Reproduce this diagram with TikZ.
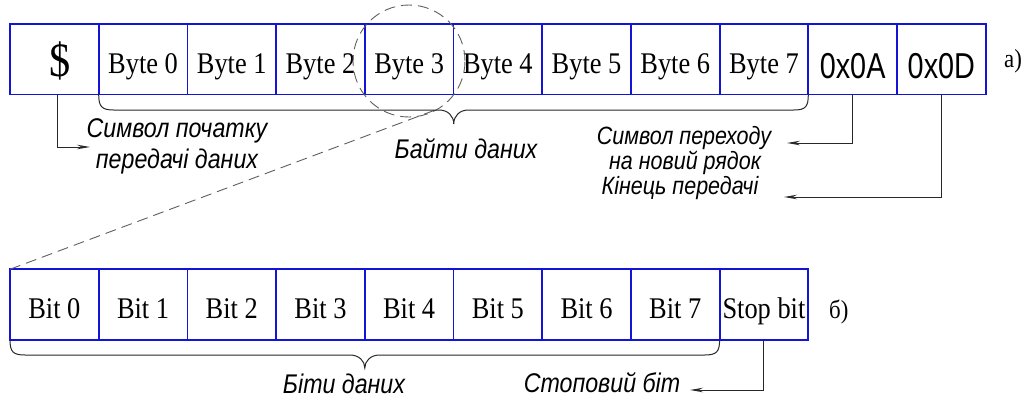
\documentclass[tikz,border=0pt]{standalone}
\usepackage{fontspec}
\setmainfont{Liberation Serif}
\newfontfamily\serifn[FakeStretch=0.88]{Liberation Serif}
\newfontfamily\sansn[FakeStretch=0.8]{Liberation Sans}
\newfontfamily\capf[FakeStretch=0.86]{Liberation Sans}
\usetikzlibrary{arrows.meta,calc}
\definecolor{boxblue}{RGB}{20,20,215}
\definecolor{ln}{RGB}{40,40,40}
\definecolor{dsh}{RGB}{95,95,95}
\begin{document}
\begin{tikzpicture}[x=1pt,y=-1pt,
  cell/.style={draw=boxblue,line width=1.8pt,minimum width=88.7pt,minimum height=70.5pt,
    inner sep=0pt,outer sep=0pt,font=\serifn\fontsize{30}{30}\selectfont,
    text height=28pt,text depth=0pt},
  captxt/.style={anchor=base,inner sep=0pt,font=\capf\itshape\fontsize{27}{27}\selectfont},
  capsmall/.style={captxt,font=\capf\itshape\fontsize{25}{25}\selectfont},
  conn/.style={draw=ln,line width=1pt},
  arr/.style={conn,-{Stealth[length=13pt,width=4.5pt]}},
  brace/.style={draw=ln,line width=1pt},
  zoomline/.style={draw=dsh,line width=0.9pt,dash pattern=on 11pt off 6pt},
  lbl/.style={anchor=base west,inner sep=0pt,font=\serifn\fontsize{26}{26}\selectfont}]
\useasboundingbox (0,0) rectangle (1026,408);

% top row
\node[cell,font=\serifn\fontsize{48}{48}\selectfont,text height=33.5pt] (cS) at (54.35,59.25) {\hspace*{11pt}\$};
\foreach \t [count=\i from 0] in {Byte 0,Byte 1,Byte 2,Byte 3,Byte 4,Byte 5,Byte 6,Byte 7}
  \node[cell] (b\i) at ({10+88.7*(\i+1.5)},59.25) {\t};
\node[cell,font=\sansn\fontsize{36}{36}\selectfont,text height=37.5pt] (cA) at (852.65,59.25) {0x0A};
\node[cell,font=\sansn\fontsize{36}{36}\selectfont,text height=37.5pt] (cD) at (941.35,59.25) {0x0D};
\node[lbl] (la) at (1004,67) {а)};

% bottom row
\foreach \t [count=\i from 0] in {Bit 0,Bit 1,Bit 2,Bit 3,Bit 4,Bit 5,Bit 6,Bit 7,Stop bit}
  \node[cell] (t\i) at ({10+88.7*(\i+0.5)},304.5) {\t};
\node[lbl] (lb) at (829,318) {б)};

% zoom circle and line
\node[circle,zoomline,minimum size=112pt,inner sep=0pt] (zm) at (409,61) {};
\draw[zoomline] (t0.north west) -- (zm.-57);

% captions
\node[captxt] (s1) at (177,137) {Символ початку};
\node[captxt] (s2) at (177,168) {передачі даних};
\node[captxt] (s3) at (466,158) {Байти даних};
\node[capsmall] (s4) at (684,144) {Символ переходу};
\node[capsmall] (s5) at (685,169) {на новий рядок};
\node[capsmall] (s6) at (680,194) {Кінець передачі};
\node[captxt] (s7) at (344,393) {Біти даних};
\node[captxt] (s8) at (602,392) {Стоповий біт};

% arrows
\coordinate (e1) at (90,147);
\coordinate (e2) at (787,143);
\coordinate (e3) at (784,197);
\coordinate (e4) at (690,390);
\draw[arr] ([xshift=3pt]cS.south) |- (e1);
\draw[arr] (cA.south) |- (e2);
\draw[arr] (cD.south) |- (e3);
\draw[arr] (t8.south) |- (e4);

% top brace
\draw[brace] (b0.south west) .. controls +(0,12) and +(-12,0) .. (113.7,110)
  -- (439,110) .. controls (448,110) and (453.75,116) .. (453.75,124)
  .. controls (453.75,116) and (459.5,110) .. (468.5,110)
  -- (793.8,110) .. controls +(12,0) and +(0,12) .. (b7.south east);
% bottom brace
\draw[brace] (t0.south west) .. controls +(0,12) and +(-12,0) .. (25,355)
  -- (350,355) .. controls (359,355) and (364.8,361) .. (364.8,368)
  .. controls (364.8,361) and (370.6,355) .. (379.6,355)
  -- (704.6,355) .. controls +(12,0) and +(0,12) .. (t7.south east);
\end{tikzpicture}
\end{document}
